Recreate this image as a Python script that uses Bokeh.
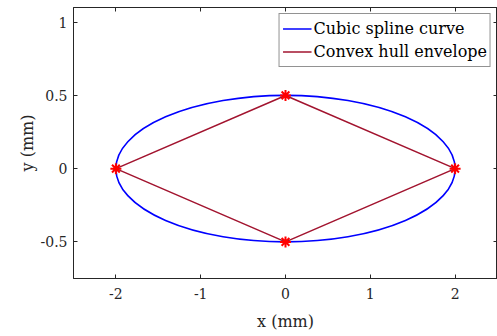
from bokeh.plotting import figure
from bokeh.models import Range1d, LinearAxis, Legend, LegendItem, FixedTicker
from bokeh.embed import file_html
from bokeh.resources import INLINE

# Data
curve_cx = [0.0]
curve_cy = [0.0]
curve_w = [4.0]   # full width (x semi-axis 2)
curve_h = [1.0]   # full height (y semi-axis 0.5)
hull_x = [-2, 0, 2, 0, -2]
hull_y = [0, 0.5, 0, -0.5, 0]
pts_x = [-2, 0, 2, 0]
pts_y = [0, 0.5, 0, -0.5]
x_ticks = [-2, -1, 0, 1, 2]
x_tick_labels = {-2: "-2", -1: "-1", 0: "0", 1: "1", 2: "2"}
y_ticks = [-0.5, 0, 0.5, 1]
y_tick_labels = {-0.5: "-0.5", 0: "0", 0.5: "0.5", 1: "1"}

FONT = "DejaVu Serif"
AX = "#262626"
BLUE = "#0000FF"
DRED = "#A2142F"

p = figure(width=497, height=336, output_backend="svg", toolbar_location=None,
           x_range=Range1d(-2.5, 2.5), y_range=Range1d(-0.75, 1.1),
           min_border_left=73, min_border_right=0, min_border_top=7, min_border_bottom=58)
p.xgrid.visible = False
p.ygrid.visible = False
p.outline_line_color = AX
p.outline_line_width = 1

ell = p.ellipse(x=curve_cx, y=curve_cy, width=curve_w, height=curve_h,
                fill_alpha=0, line_color=BLUE, line_width=1.6)
# single-point line: draws nothing in the plot, provides a line glyph for the legend
blue_leg = p.line(x=curve_cx, y=curve_cy, line_color=BLUE, line_width=1.6)
hull = p.line(hull_x, hull_y, line_color=DRED, line_width=1.6)
p.scatter(pts_x, pts_y, marker="asterisk", size=11, line_color="#FF0000", line_width=2)

for ax in (p.xaxis[0], p.yaxis[0]):
    ax.major_tick_in = 4
    ax.major_tick_out = 0
    ax.minor_tick_in = 0
    ax.minor_tick_out = 0
    ax.axis_line_color = AX
    ax.major_tick_line_color = AX
    ax.major_label_text_font = FONT
    ax.major_label_text_font_size = "14px"
    ax.major_label_text_color = AX
    ax.axis_label_text_font = FONT
    ax.axis_label_text_font_size = "16px"
    ax.axis_label_text_font_style = "normal"
    ax.axis_label_text_color = AX

p.xaxis[0].ticker = FixedTicker(ticks=x_ticks)
p.xaxis[0].major_label_overrides = x_tick_labels
p.yaxis[0].ticker = FixedTicker(ticks=y_ticks)
p.yaxis[0].major_label_overrides = y_tick_labels
p.xaxis[0].axis_label = "x (mm)"
p.yaxis[0].axis_label = "y (mm)"
p.xaxis[0].major_label_standoff = 9
p.yaxis[0].major_label_standoff = 6
p.xaxis[0].axis_label_standoff = 10
p.yaxis[0].axis_label_standoff = 1

top = LinearAxis(ticker=FixedTicker(ticks=x_ticks), major_label_text_font_size="0px",
                 major_tick_in=4, major_tick_out=0, minor_tick_in=0, minor_tick_out=0,
                 axis_line_color=AX, major_tick_line_color=AX)
right = LinearAxis(ticker=FixedTicker(ticks=y_ticks), major_label_text_font_size="0px",
                   major_tick_in=4, major_tick_out=0, minor_tick_in=0, minor_tick_out=0,
                   axis_line_color=AX, major_tick_line_color=AX)
top.major_label_standoff = 0
right.major_label_standoff = 0
p.add_layout(top, "above")
p.add_layout(right, "right")

legend = Legend(items=[LegendItem(label="Cubic spline curve", renderers=[blue_leg]),
                       LegendItem(label="Convex hull envelope", renderers=[hull])],
                location="top_right")
legend.label_text_font = FONT
legend.label_text_font_size = "16px"
legend.label_text_color = "#000000"
legend.border_line_color = AX
legend.border_line_width = 1
legend.margin = 6
legend.padding = 3
legend.spacing = 0
legend.glyph_width = 29
legend.label_standoff = 2
legend.label_height = 23
legend.glyph_height = 23
p.add_layout(legend, "center")

open("out.html", "w").write(file_html(p, INLINE))
